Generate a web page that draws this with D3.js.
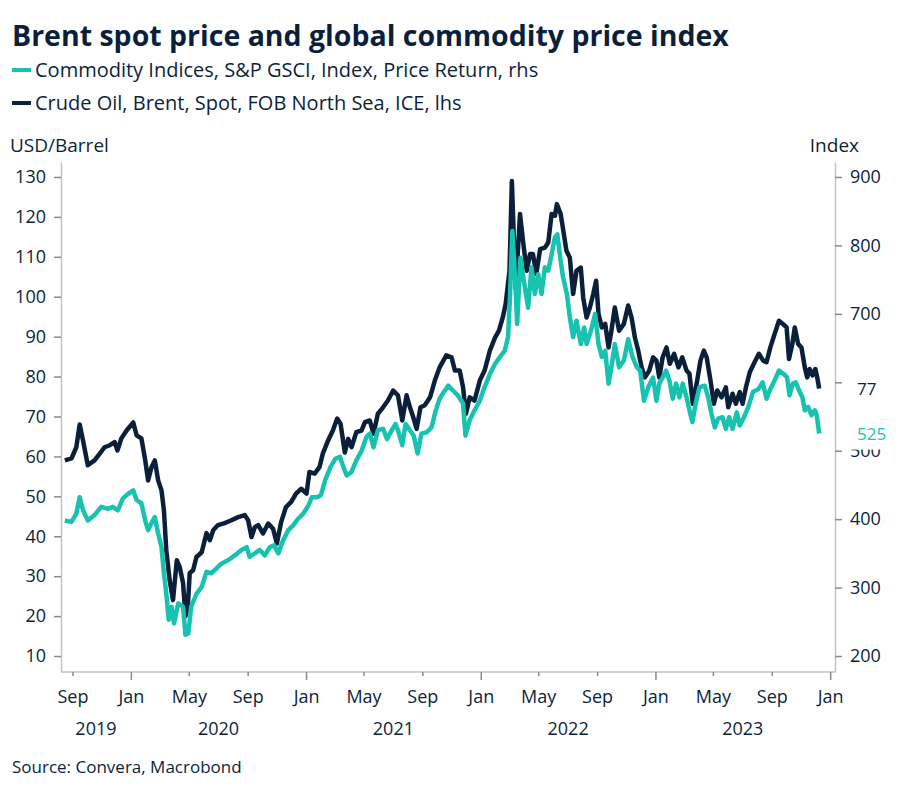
<!DOCTYPE html>
<html>
<head>
<meta charset="utf-8">
<script src="https://cdn.jsdelivr.net/npm/d3@7"></script>
<style>
  body { margin: 0; background: #fff; }
  text { font-family: "Open Sans", sans-serif; fill: #0b1f3d; }
</style>
</head>
<body>
<svg id="chart" width="907" height="795"></svg>
<script>
// Brent, USD/barrel (lhs)
const brentDates = [
  "2019-08-16","2019-08-30","2019-09-09","2019-09-16","2019-09-23","2019-10-03","2019-10-17","2019-10-28",
  "2019-11-07","2019-11-18","2019-11-28","2019-12-04","2019-12-12","2019-12-23","2020-01-06","2020-01-13",
  "2020-01-23","2020-01-31","2020-02-06","2020-02-13","2020-02-20","2020-02-27","2020-03-05","2020-03-10",
  "2020-03-15","2020-03-22","2020-03-29","2020-04-06","2020-04-12","2020-04-19","2020-04-24","2020-04-29",
  "2020-05-03","2020-05-10","2020-05-17","2020-05-28","2020-06-07","2020-06-14","2020-06-21","2020-07-01",
  "2020-07-15","2020-07-29","2020-08-12","2020-08-26","2020-09-02","2020-09-09","2020-09-16","2020-09-23",
  "2020-10-03","2020-10-14","2020-10-24","2020-11-01","2020-11-10","2020-11-20","2020-12-01","2020-12-11",
  "2020-12-22","2021-01-02","2021-01-08","2021-01-19","2021-01-29","2021-02-05","2021-02-16","2021-02-26",
  "2021-03-07","2021-03-14","2021-03-23","2021-03-30","2021-04-06","2021-04-16","2021-04-27","2021-05-04",
  "2021-05-14","2021-05-22","2021-05-31","2021-06-11","2021-06-21","2021-07-02","2021-07-12","2021-07-21",
  "2021-07-30","2021-08-06","2021-08-13","2021-08-20","2021-08-28","2021-09-06","2021-09-17","2021-09-27",
  "2021-10-07","2021-10-21","2021-11-01","2021-11-08","2021-11-18","2021-11-25","2021-12-01","2021-12-09",
  "2021-12-19","2021-12-30","2022-01-09","2022-01-20","2022-01-31","2022-02-08","2022-02-16","2022-02-22",
  "2022-03-02","2022-03-07","2022-03-11","2022-03-15","2022-03-24","2022-03-31","2022-04-07","2022-04-14",
  "2022-04-20","2022-04-27","2022-05-05","2022-05-15","2022-05-22","2022-05-29","2022-06-05","2022-06-09",
  "2022-06-17","2022-06-22","2022-06-29","2022-07-06","2022-07-13","2022-07-20","2022-07-29","2022-08-03",
  "2022-08-10","2022-08-17","2022-08-24","2022-08-30","2022-09-04","2022-09-11","2022-09-18","2022-09-25",
  "2022-10-01","2022-10-08","2022-10-17","2022-10-27","2022-11-05","2022-11-12","2022-11-19","2022-11-26",
  "2022-12-03","2022-12-10","2022-12-19","2022-12-27","2023-01-03","2023-01-09","2023-01-16","2023-01-24",
  "2023-01-31","2023-02-09","2023-02-18","2023-02-26","2023-03-07","2023-03-13","2023-03-20","2023-03-28",
  "2023-04-05","2023-04-12","2023-04-18","2023-04-26","2023-05-03","2023-05-10","2023-05-19","2023-05-28",
  "2023-06-02","2023-06-11","2023-06-18","2023-06-26","2023-07-02","2023-07-09","2023-07-17","2023-07-27",
  "2023-08-05","2023-08-14","2023-08-21","2023-08-29","2023-09-07","2023-09-16","2023-09-24","2023-10-02",
  "2023-10-07","2023-10-14","2023-10-19","2023-10-26","2023-11-02","2023-11-09","2023-11-14","2023-11-19",
  "2023-11-25","2023-12-01","2023-12-05","2023-12-09"
];
const brentValues = [
  59, 59.5, 62.3, 68, 64, 57.8, 59, 60.7,
  62.3, 62.8, 63.6, 61.5, 64.5, 66.5, 68.5, 65.3,
  64.5, 59, 54, 57.3, 59, 54, 51.5, 46.5,
  36.5, 29, 24, 34, 32.3, 28.3, 20, 22.5,
  30.8, 31.5, 34.8, 36, 40.8, 39, 41.5, 42.8,
  43.3, 44, 44.8, 45.3, 44, 39.8, 42.3, 42.8,
  40.7, 43.2, 41.9, 38.2, 43.6, 47.3, 48.6, 50.7,
  51.9, 50.7, 56.1, 55.7, 57.3, 60.7, 64, 66.5,
  69.5, 68.2, 61, 64.4, 62.3, 66.1, 66.5, 68.6,
  69, 65.7, 70.7, 72.3, 74, 76.5, 75.3, 69,
  75.3, 72.3, 69.8, 66.9, 72.3, 72.8, 74.8, 79,
  82.3, 85.3, 84.8, 81.5, 81.5, 77.3, 70.7, 74.8,
  74, 79, 81.5, 86.5, 89.8, 91.5, 94.8, 98.2,
  106.5, 129, 114.8, 102, 120.7, 113.2, 106.5, 110.7,
  110.7, 105.7, 111.9, 112.3, 113.6, 120.7, 120.3, 123.2,
  120.7, 116.9, 111.5, 109.8, 100.7, 106.5, 107.3, 99.8,
  94.8, 97.3, 100.7, 104, 95.7, 92.3, 93.2, 87.3,
  91.5, 97.3, 91.5, 93.2, 97.8, 94.8, 89.8, 86.5,
  82.3, 79.8, 81.5, 84.8, 84, 79.8, 84.8, 87.3,
  83.2, 85.7, 82.3, 84.8, 81.5, 80.7, 73.2, 78.2,
  84, 86.5, 84.8, 79, 73.2, 76.5, 74.8, 77.3,
  72.3, 75.7, 73.2, 76.1, 73.2, 77.3, 81.1, 83.6,
  85.7, 84, 83.6, 87.3, 90.7, 94, 93.2, 92.3,
  84.4, 88.2, 92.3, 88.2, 87.3, 82.3, 79.8, 81.9,
  80.3, 81.9, 79.8, 77
];

// S&P GSCI price return index (rhs)
const gsciDates = [
  "2019-08-16","2019-08-30","2019-09-09","2019-09-16","2019-09-23","2019-10-03","2019-10-17","2019-10-31",
  "2019-11-14","2019-11-24","2019-12-05","2019-12-15","2019-12-26","2020-01-06","2020-01-13","2020-01-23",
  "2020-01-31","2020-02-06","2020-02-13","2020-02-20","2020-02-27","2020-03-05","2020-03-10","2020-03-15",
  "2020-03-20","2020-03-26","2020-03-31","2020-04-09","2020-04-19","2020-04-24","2020-04-30","2020-05-06",
  "2020-05-17","2020-05-28","2020-06-07","2020-06-17","2020-06-28","2020-07-08","2020-07-22","2020-08-05",
  "2020-08-19","2020-08-30","2020-09-05","2020-09-16","2020-09-26","2020-10-07","2020-10-17","2020-10-26",
  "2020-11-04","2020-11-14","2020-11-25","2020-12-05","2020-12-16","2020-12-26","2021-01-06","2021-01-13",
  "2021-01-24","2021-02-01","2021-02-10","2021-02-21","2021-03-03","2021-03-13","2021-03-20","2021-03-27",
  "2021-04-06","2021-04-16","2021-04-27","2021-05-07","2021-05-14","2021-05-22","2021-05-31","2021-06-11",
  "2021-06-19","2021-06-29","2021-07-07","2021-07-12","2021-07-21","2021-07-28","2021-08-06","2021-08-14",
  "2021-08-22","2021-08-30","2021-09-10","2021-09-20","2021-09-29","2021-10-07","2021-10-16","2021-10-25",
  "2021-11-04","2021-11-14","2021-11-25","2021-11-30","2021-12-09","2021-12-19","2021-12-30","2022-01-09",
  "2022-01-20","2022-01-31","2022-02-10","2022-02-20","2022-02-27","2022-03-03","2022-03-08","2022-03-13",
  "2022-03-18","2022-03-25","2022-04-01","2022-04-10","2022-04-17","2022-04-24","2022-05-01","2022-05-08",
  "2022-05-15","2022-05-22","2022-05-29","2022-06-05","2022-06-10","2022-06-16","2022-06-22","2022-06-30",
  "2022-07-06","2022-07-13","2022-07-20","2022-07-29","2022-08-05","2022-08-10","2022-08-19","2022-08-28",
  "2022-09-04","2022-09-11","2022-09-18","2022-09-25","2022-10-01","2022-10-08","2022-10-17","2022-10-27",
  "2022-11-05","2022-11-14","2022-11-23","2022-11-30","2022-12-08","2022-12-17","2022-12-27","2023-01-03",
  "2023-01-09","2023-01-16","2023-01-23","2023-01-30","2023-02-06","2023-02-13","2023-02-20","2023-02-27",
  "2023-03-07","2023-03-13","2023-03-19","2023-03-26","2023-04-03","2023-04-14","2023-04-21","2023-04-28",
  "2023-05-05","2023-05-12","2023-05-21","2023-05-28","2023-06-04","2023-06-11","2023-06-20","2023-06-26",
  "2023-07-05","2023-07-14","2023-07-24","2023-08-04","2023-08-13","2023-08-21","2023-08-29","2023-09-07",
  "2023-09-16","2023-09-26","2023-10-03","2023-10-08","2023-10-15","2023-10-21","2023-10-28","2023-11-04",
  "2023-11-09","2023-11-16","2023-11-23","2023-11-30","2023-12-04","2023-12-09"
];
const gsciValues = [
  398, 396, 408, 432, 413, 398, 406, 418,
  415, 418, 413, 430, 437, 442, 428, 423,
  398, 384, 394, 403, 379, 359, 321, 291,
  253, 272, 248, 277, 272, 231, 233, 272,
  291, 301, 323, 321, 328, 335, 340, 347,
  355, 359, 345, 350, 355, 347, 359, 362,
  350, 369, 384, 391, 401, 408, 420, 432,
  432, 435, 457, 476, 488, 491, 476, 464,
  469, 486, 500, 520, 525, 505, 530, 532,
  517, 530, 539, 530, 508, 539, 530, 522,
  496, 525, 527, 534, 559, 576, 586, 595,
  588, 581, 569, 522, 545, 559, 573, 593,
  612, 627, 637, 646, 666, 724, 821, 763,
  685, 782, 748, 709, 768, 729, 758, 729,
  768, 763, 787, 812, 816, 782, 753, 729,
  695, 666, 690, 656, 680, 656, 675, 700,
  656, 637, 646, 598, 622, 656, 622, 632,
  663, 637, 622, 617, 573, 593, 607, 573,
  598, 607, 617, 603, 576, 598, 578, 598,
  578, 559, 542, 569, 593, 595, 578, 554,
  534, 547, 549, 532, 549, 532, 556, 537,
  549, 564, 586, 590, 600, 576, 590, 603,
  617, 612, 607, 581, 598, 600, 588, 578,
  559, 564, 552, 559, 552, 525
];

const leftTicks = [10, 20, 30, 40, 50, 60, 70, 80, 90, 100, 110, 120, 130];
const rightTicks = [200, 300, 400, 500, 600, 700, 800, 900];
const monthTicks = [
  "2019-09-01","2020-01-01","2020-05-01","2020-09-01","2021-01-01","2021-05-01","2021-09-01",
  "2022-01-01","2022-05-01","2022-09-01","2023-01-01","2023-05-01","2023-09-01","2024-01-01"
];
const years = [2019, 2020, 2021, 2022, 2023];

const navy = "#0a1f3a";
const teal = "#17c3b0";

const svg = d3.select("#chart");
const parse = d3.utcParse("%Y-%m-%d");

const plot = { left: 61, right: 834, top: 162, bottom: 672 };

const xScale = d3.scaleUtc()
  .domain([parse("2019-08-08"), parse("2024-01-09")])
  .range([plot.left, plot.right]);
const yLeft = d3.scaleLinear()
  .domain([6, 133.75])
  .range([plot.bottom, plot.top]);
const yRight = d3.scaleLinear()
  .domain([176.67, 921.875])
  .range([plot.bottom, plot.top]);

// title + legend
svg.append("text")
  .attr("x", 12).attr("y", 46)
  .style("font-size", "28.5px").style("font-weight", "700")
  .text("Brent spot price and global commodity price index");

const legend = [
  { label: "Commodity Indices, S&P GSCI, Index, Price Return, rhs", color: teal },
  { label: "Crude Oil, Brent, Spot, FOB North Sea, ICE, lhs", color: navy }
];
legend.forEach(function (d, i) {
  const y = 70 + i * 33;
  svg.append("line")
    .attr("x1", 12).attr("x2", 31).attr("y1", y).attr("y2", y)
    .attr("stroke", d.color).attr("stroke-width", 4);
  svg.append("text")
    .attr("x", 35).attr("y", y + 7)
    .style("font-size", "20px")
    .text(d.label);
});

svg.append("text").attr("x", 10).attr("y", 152).style("font-size", "19px").text("USD/Barrel");
svg.append("text").attr("x", 859).attr("y", 152).attr("text-anchor", "end").style("font-size", "19px").text("Index");

// axes
function styleAxis(g) {
  g.select(".domain").attr("stroke", "#c4c4c4").attr("stroke-width", 1.5);
  g.selectAll(".tick line").attr("stroke", "#8a8a8a").attr("stroke-width", 1.5);
  g.selectAll(".tick text").style("font-size", "18px").style("font-family", "\"Open Sans\", sans-serif").attr("fill", "#0b1f3d");
}

svg.append("g")
  .attr("transform", `translate(${plot.left},0)`)
  .call(d3.axisLeft(yLeft).tickValues(leftTicks).tickSize(7).tickSizeOuter(0).tickPadding(8))
  .call(styleAxis);

const rightAxis = svg.append("g")
  .attr("transform", `translate(${plot.right + 1},0)`)
  .call(d3.axisRight(yRight).tickValues(rightTicks).tickSize(7).tickSizeOuter(0).tickPadding(8))
  .call(styleAxis);
// the 600 label sits under the last-value label of Brent in the reference
rightAxis.selectAll(".tick text").filter(function (d) { return d === 600; }).remove();

const xAxis = svg.append("g")
  .attr("transform", `translate(0,${plot.bottom})`)
  .call(d3.axisBottom(xScale)
    .tickValues(monthTicks.map(parse))
    .tickSize(4).tickSizeOuter(0)
    .tickFormat(d3.utcFormat("%b")))
  .call(styleAxis);
xAxis.select(".domain").attr("d", `M${plot.left},0H${plot.right + 1}`);
xAxis.selectAll(".tick line").attr("y2", function (d) { return d.getUTCMonth() === 0 ? 8 : 4; });
xAxis.selectAll(".tick text").attr("y", 31).attr("dy", 0);

years.forEach(function (yr) {
  const a = d3.max([xScale.domain()[0], Date.UTC(yr, 0, 1)]);
  const b = d3.min([xScale.domain()[1], Date.UTC(yr + 1, 0, 1)]);
  svg.append("text")
    .attr("x", (xScale(a) + xScale(b)) / 2)
    .attr("y", 735)
    .attr("text-anchor", "middle")
    .style("font-size", "18px")
    .text(yr);
});

// series
const brent = brentDates.map(function (d, i) { return { date: parse(d), value: brentValues[i] }; });
const gsci = gsciDates.map(function (d, i) { return { date: parse(d), value: gsciValues[i] }; });

svg.append("path")
  .datum(brent)
  .attr("fill", "none")
  .attr("stroke", navy)
  .attr("stroke-width", 4.5)
  .attr("stroke-linejoin", "round")
  .attr("d", d3.line().x(function (d) { return xScale(d.date); }).y(function (d) { return yLeft(d.value); }));

svg.append("path")
  .datum(gsci)
  .attr("fill", "none")
  .attr("stroke", teal)
  .attr("stroke-width", 4.5)
  .attr("stroke-linejoin", "round")
  .attr("d", d3.line().x(function (d) { return xScale(d.date); }).y(function (d) { return yRight(d.value); }));

// last value labels (white backing covers the axis labels behind them)
const lastLabels = [
  { value: brentValues[brentValues.length - 1], y: yLeft(brentValues[brentValues.length - 1]), color: navy },
  { value: gsciValues[gsciValues.length - 1], y: yRight(gsciValues[gsciValues.length - 1]), color: teal }
];
lastLabels.forEach(function (d) {
  svg.append("rect")
    .attr("x", plot.right + 9).attr("y", d.y - 16)
    .attr("width", 60).attr("height", 32)
    .attr("fill", "#fff");
  svg.append("text")
    .attr("x", plot.right + 23).attr("y", d.y).attr("dy", "0.35em")
    .style("font-size", "17px")
    .style("fill", d.color)
    .text(d.value);
});

svg.append("text").attr("x", 12).attr("y", 773).style("font-size", "17px").text("Source: Convera, Macrobond");
</script>
</body>
</html>
